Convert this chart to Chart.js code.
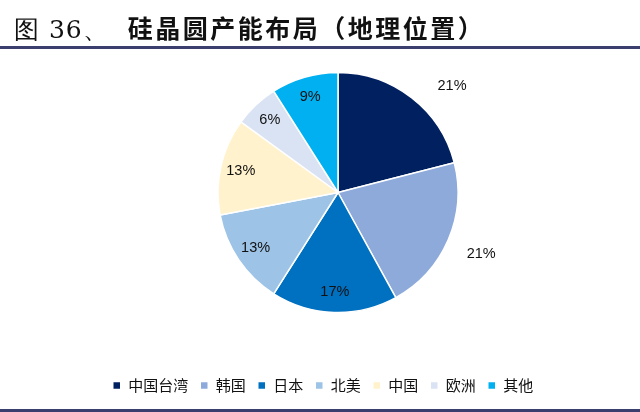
<!DOCTYPE html>
<html lang="zh">
<head>
<meta charset="UTF-8">
<title>硅晶圆产能布局</title>
<script src="https://cdn.jsdelivr.net/npm/chart.js"></script>
<style>
  body { margin: 0; background: #fff; }
  .wrap { position: relative; width: 640px; height: 412px; overflow: hidden; }
  .title { position: absolute; left: 14px; top: 11px; font-size: 25px; line-height: 32px; color: #111; white-space: nowrap; }
  .title .num { font-family: "DejaVu Serif", "Liberation Serif", serif; font-weight: normal; letter-spacing: 1px; margin-right: 19px; }
  .title .txt { font-family: "Noto Sans CJK SC", sans-serif; font-weight: bold; letter-spacing: 2.5px; }
  .line-top { position: absolute; left: 0; top: 46px; width: 640px; height: 3px; background: #3b3f6e; }
  .line-bottom { position: absolute; left: 0; top: 409px; width: 640px; height: 3px; background: #3b3f6e; }
  canvas { position: absolute; left: 0; top: 0; }
</style>
</head>
<body>
<div class="wrap">
  <canvas id="pieChart" width="640" height="412"></canvas>
  <div class="title"><span class="num">图 36、</span><span class="txt">硅晶圆产能布局（地理位置）</span></div>
  <div class="line-top"></div>
  <div class="line-bottom"></div>
</div>

<script>
  // 数据
  const regions = ['中国台湾', '韩国', '日本', '北美', '中国', '欧洲', '其他'];
  const shares = [21, 21, 17, 13, 13, 6, 9];
  const sliceColors = ['#002060', '#8eaadb', '#0070c0', '#9dc3e6', '#fff2cc', '#dae3f3', '#00b0f0'];

  // 百分比标签
  const pctLabels = {
    id: 'pctLabels',
    afterDatasetsDraw(chart, args, opts) {
      const ctx = chart.ctx;
      const meta = chart.getDatasetMeta(0);
      ctx.save();
      ctx.font = '14.5px "Liberation Sans", Arial, sans-serif';
      ctx.fillStyle = '#111';
      ctx.textAlign = 'center';
      ctx.textBaseline = 'middle';
      meta.data.forEach((arc, i) => {
        const p = arc.getProps(['x', 'y', 'startAngle', 'endAngle', 'outerRadius']);
        const mid = (p.startAngle + p.endAngle) / 2 + (opts.shift[i] || 0);
        const f = opts.outside.includes(i) ? 1.3 : 0.83;
        const r = p.outerRadius * f;
        ctx.fillText(shares[i] + '%', p.x + Math.cos(mid) * r, p.y + Math.sin(mid) * r);
      });
      ctx.restore();
    }
  };

  // 图例左移，饼图保持偏右
  const legendShift = {
    id: 'legendShift',
    afterLayout(chart) {
      chart.legend.left -= 15;
      chart.legend.right -= 15;
    }
  };

  new Chart(document.getElementById('pieChart'), {
    type: 'pie',
    data: {
      labels: regions,
      datasets: [{
        data: shares,
        backgroundColor: sliceColors,
        borderColor: '#fff',
        borderWidth: 1.5
      }]
    },
    options: {
      responsive: false,
      animation: false,
      radius: 120,
      layout: { padding: { top: 19, bottom: 9, left: 36 } },
      plugins: {
        tooltip: { enabled: false },
        legend: {
          position: 'bottom',
          labels: {
            usePointStyle: true,
            pointStyle: 'rect',
            boxWidth: 8,
            boxHeight: 8,
            padding: 12,
            color: '#111',
            font: { family: '"Noto Sans CJK SC", sans-serif', size: 15 }
          }
        },
        pctLabels: { outside: [0, 1], shift: { 0: 0.16 } }
      }
    },
    plugins: [pctLabels, legendShift]
  });
</script>
</body>
</html>
